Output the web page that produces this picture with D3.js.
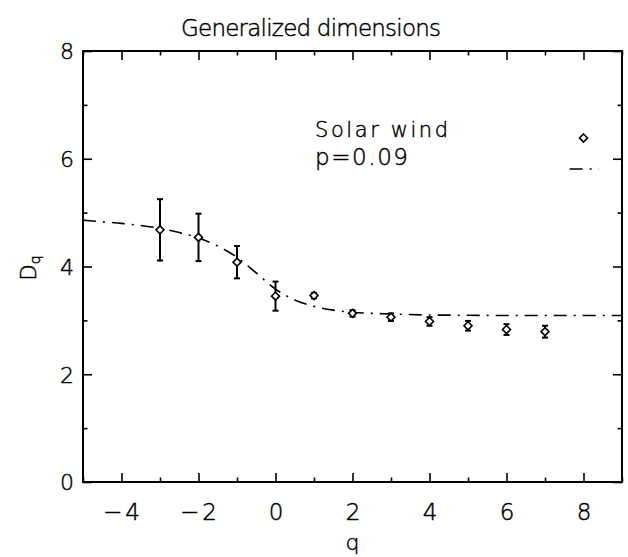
<!DOCTYPE html>
<html lang="en">
<head>
    <meta charset="UTF-8">
    <title>Generalized dimensions</title>
    <style>
        body {
            margin: 0;
            background: white;
        }
        svg text {
            font-family: "DejaVu Sans", sans-serif;
            font-weight: 200;
            fill: black;
            stroke: black;
            stroke-width: 0.45px;
        }
    </style>
    <script src="https://d3js.org/d3.v7.min.js"></script>
</head>
<body>
<div id="chart"></div>
<script>
    // Measured D_q values (Solar wind) with error bars
    const qValues = [-3, -2, -1, 0, 1, 2, 3, 4, 5, 6, 7];
    const dqValues = [4.68, 4.54, 4.08, 3.45, 3.46, 3.13, 3.06, 2.98, 2.90, 2.83, 2.79];
    const dqErrors = [0.57, 0.44, 0.30, 0.27, 0.05, 0.06, 0.07, 0.08, 0.09, 0.10, 0.11];

    // Model curve (p-model, p=0.09)
    const fitQ = [-5, -4.5, -4, -3.5, -3, -2.5, -2, -1.5, -1, -0.5, 0, 0.5, 1, 1.5, 2, 2.5, 3, 4, 5, 6, 7, 8, 9];
    const fitD = [4.86, 4.83, 4.80, 4.76, 4.71, 4.63, 4.53, 4.38, 4.17, 3.88, 3.58, 3.38, 3.26, 3.19, 3.15, 3.13, 3.12, 3.10, 3.095, 3.09, 3.09, 3.09, 3.09];

    const xTicks = [-4, -2, 0, 2, 4, 6, 8];
    const yTicks = [0, 2, 4, 6, 8];

    const width = 628, height = 557;
    const margin = { top: 51, right: 6, bottom: 75, left: 83 };
    const plotW = width - margin.left - margin.right;
    const plotH = height - margin.top - margin.bottom;

    const svg = d3.select("#chart").append("svg")
        .attr("width", width)
        .attr("height", height);

    const g = svg.append("g")
        .attr("transform", `translate(${margin.left},${margin.top})`);

    const x = d3.scaleLinear().domain([-5, 9]).range([0, plotW]);
    const y = d3.scaleLinear().domain([0, 8]).range([plotH, 0]);

    // Ticks pointing inward on all four sides
    const minorX = d3.range(-5, 10, 1).filter(v => !xTicks.includes(v));
    const minorY = d3.range(0, 9, 1).filter(v => !yTicks.includes(v));
    const major = 9, minor = 4.5;

    const axisStyle = sel => {
        sel.select(".domain").remove();
        sel.selectAll("line").attr("stroke", "black").attr("stroke-width", 1.6);
    };

    // bottom
    g.append("g").attr("transform", `translate(0,${plotH})`)
        .call(d3.axisBottom(x).tickValues(xTicks).tickSize(-major).tickFormat(d => d < 0 ? "\u2212" + Math.abs(d) : d))
        .call(axisStyle)
        .call(s => s.selectAll("text").attr("y", 22).attr("dx", d => d < 0 ? "1px" : 0)
            .style("font-size", "23px").style("letter-spacing", d => d < 0 ? "3px" : null));
    g.append("g").attr("transform", `translate(0,${plotH})`)
        .call(d3.axisBottom(x).tickValues(minorX).tickSize(-minor).tickFormat(""))
        .call(axisStyle);
    // top
    g.append("g")
        .call(d3.axisTop(x).tickValues(xTicks).tickSize(-major).tickFormat(""))
        .call(axisStyle);
    g.append("g")
        .call(d3.axisTop(x).tickValues(minorX).tickSize(-minor).tickFormat(""))
        .call(axisStyle);
    // left
    g.append("g")
        .call(d3.axisLeft(y).tickValues(yTicks).tickSize(-major))
        .call(axisStyle)
        .call(s => s.selectAll("text").attr("x", -9).attr("dy", "0.36em").style("font-size", "22px"));
    g.append("g")
        .call(d3.axisLeft(y).tickValues(minorY).tickSize(-minor).tickFormat(""))
        .call(axisStyle);
    // right
    g.append("g").attr("transform", `translate(${plotW},0)`)
        .call(d3.axisRight(y).tickValues(yTicks).tickSize(-major).tickFormat(""))
        .call(axisStyle);
    g.append("g").attr("transform", `translate(${plotW},0)`)
        .call(d3.axisRight(y).tickValues(minorY).tickSize(-minor).tickFormat(""))
        .call(axisStyle);

    // frame
    g.append("rect")
        .attr("width", plotW)
        .attr("height", plotH)
        .attr("fill", "none")
        .attr("stroke", "black")
        .attr("stroke-width", 2);

    // model curve
    const fitData = fitQ.map((q, i) => ({ q: q, d: fitD[i] }));
    const dashes = "13,7,2,7";
    g.append("path")
        .datum(fitData)
        .attr("fill", "none")
        .attr("stroke", "black")
        .attr("stroke-width", 1.6)
        .attr("stroke-dasharray", dashes)
        .attr("d", d3.line().curve(d3.curveMonotoneX).x(d => x(d.q)).y(d => y(d.d)));

    // error bars
    const points = qValues.map((q, i) => ({ q: q, d: dqValues[i], e: dqErrors[i] }));
    const bars = g.selectAll(".err").data(points).enter().append("g")
        .attr("stroke", "black").attr("stroke-width", 2);
    bars.append("line")
        .attr("x1", d => x(d.q)).attr("x2", d => x(d.q))
        .attr("y1", d => y(d.d - d.e)).attr("y2", d => y(d.d + d.e));
    bars.append("line")
        .attr("x1", d => x(d.q) - 3).attr("x2", d => x(d.q) + 3)
        .attr("y1", d => y(d.d - d.e)).attr("y2", d => y(d.d - d.e));
    bars.append("line")
        .attr("x1", d => x(d.q) - 3).attr("x2", d => x(d.q) + 3)
        .attr("y1", d => y(d.d + d.e)).attr("y2", d => y(d.d + d.e));

    // diamonds
    const diamond = "M0,-4L4,0L0,4L-4,0Z";
    g.selectAll(".pt").data(points).enter().append("path")
        .attr("d", diamond)
        .attr("transform", d => `translate(${x(d.q)},${y(d.d)})`)
        .attr("fill", "white")
        .attr("stroke", "black")
        .attr("stroke-width", 1.6);

    // legend
    g.append("text").attr("x", 232).attr("y", 86).style("font-size", "21px")
        .attr("textLength", 133).attr("lengthAdjust", "spacing").text("Solar wind");
    g.append("text").attr("x", 232).attr("y", 114).style("font-size", "23px")
        .attr("textLength", 93).attr("lengthAdjust", "spacing").text("p=0.09");
    g.append("path").attr("d", diamond)
        .attr("transform", `translate(${x(8)},87)`)
        .attr("fill", "white").attr("stroke", "black").attr("stroke-width", 1.6);
    g.append("line")
        .attr("x1", x(7.64)).attr("x2", x(8.4))
        .attr("y1", 118).attr("y2", 118)
        .attr("stroke", "black").attr("stroke-width", 1.6)
        .attr("stroke-dasharray", dashes);

    // titles
    svg.append("text")
        .attr("x", 311).attr("y", 36)
        .attr("text-anchor", "middle")
        .style("font-size", "23px")
        .attr("textLength", 260).attr("lengthAdjust", "spacing")
        .text("Generalized dimensions");

    svg.append("text")
        .attr("x", margin.left + plotW / 2).attr("y", 550)
        .attr("text-anchor", "middle")
        .style("font-size", "22px")
        .text("q");

    const yl = svg.append("text")
        .attr("transform", "translate(36,268) rotate(-90)")
        .attr("text-anchor", "middle")
        .style("font-size", "21px");
    yl.append("tspan").text("D");
    yl.append("tspan").attr("dy", "0.3em").style("font-size", "14px").text("q");
</script>
</body>
</html>
